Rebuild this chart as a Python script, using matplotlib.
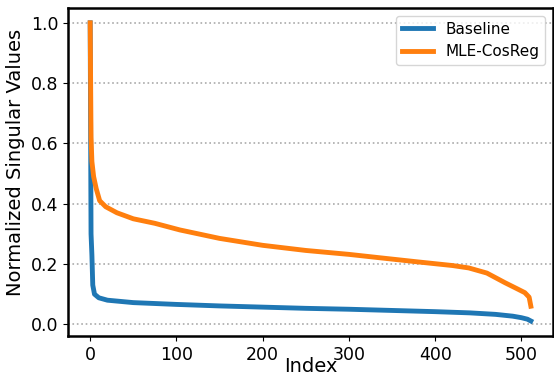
import matplotlib
matplotlib.use("Agg")
import matplotlib.pyplot as plt

# singular values (index, normalized value)
base_idx = [0, 1, 2, 3, 5, 10, 20, 50, 100, 150, 200, 250, 300, 350, 400, 440, 470, 490, 500, 507, 511]
base_val = [1.0, 0.30, 0.23, 0.13, 0.10, 0.088, 0.080, 0.072, 0.066, 0.061, 0.057, 0.053, 0.050, 0.046, 0.042, 0.038, 0.033, 0.027, 0.022, 0.017, 0.011]

reg_idx = [0, 1, 2, 4, 7, 11, 18, 31, 50, 75, 104, 150, 200, 250, 300, 335, 380, 420, 439, 460, 481, 495, 504, 509, 510, 511]
reg_val = [1.0, 0.62, 0.54, 0.49, 0.45, 0.41, 0.39, 0.37, 0.35, 0.335, 0.313, 0.285, 0.262, 0.245, 0.232, 0.221, 0.207, 0.195, 0.187, 0.170, 0.138, 0.118, 0.105, 0.09, 0.075, 0.06]

labels = ["Baseline", "MLE-CosReg"]

plt.rcParams['font.family'] = ['DejaVu Sans']
fig = plt.figure(figsize=(5.54, 3.77), dpi=100)
ax = fig.add_axes([0.123, 0.109, 0.875, 0.870])

ax.plot(base_idx, base_val, color='#1f77b4', lw=3.5, label=labels[0])
ax.plot(reg_idx, reg_val, color='#ff7f0e', lw=3.5, label=labels[1])

ax.grid(axis='y', linestyle=':', color='#aaaaaa', lw=1.2)
ax.set_axisbelow(True)
ax.set_yticks([0.0, 0.2, 0.4, 0.6, 0.8, 1.0])
ax.set_xticks([0, 100, 200, 300, 400, 500])
ax.tick_params(labelsize=12.5)
for s in ax.spines.values():
    s.set_linewidth(1.8)
ax.set_xlabel('Index', fontsize=14, labelpad=-4.5)
ax.set_ylabel('Normalized Singular Values', fontsize=14, labelpad=4)
ax.yaxis.label.set_y(0.53)
ax.legend(loc='upper right', fontsize=11)

fig.savefig('out.png', dpi=100)
